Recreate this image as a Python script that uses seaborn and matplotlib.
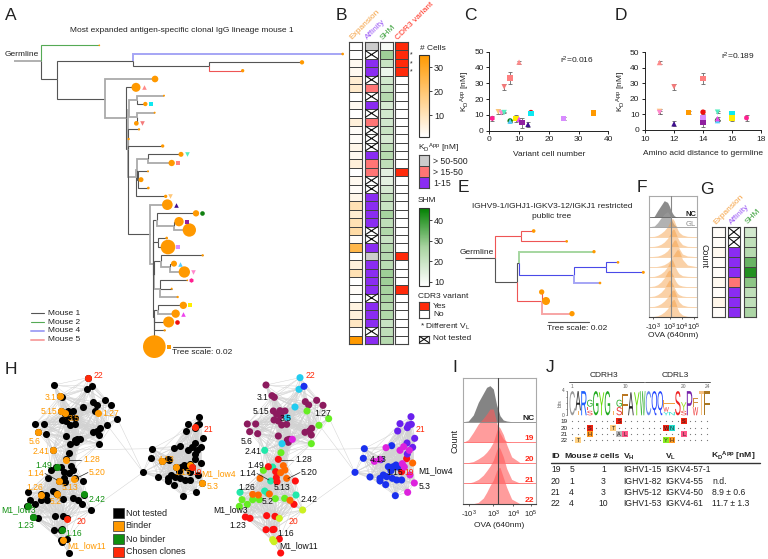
import numpy as np
import pandas as pd
import matplotlib
matplotlib.use("Agg")
import matplotlib.pyplot as plt
import seaborn as sns
from matplotlib.colors import ListedColormap, LinearSegmentedColormap, Normalize
from matplotlib.cm import ScalarMappable
from matplotlib.collections import LineCollection
from matplotlib.transforms import Affine2D
import matplotlib.patheffects as pe

# ---------- data ----------
clone_names = list("abcdefghijklmnopq")
clone_colors = ['#ff8a8a','#ff8080','#f47a7a','#ffc87a','#ff88cc','#55eec0','#ee1010','#10e8f0','#ff9900',
                '#ffee00','#d88cff','#ff2090','#108010','#55ccff','#ee44ee','#9020a0','#401090']
clone_markers = ['^','s','v','v','v','v','o','s','s','s','s','h','o','^','^','s','^']
variant_cells = [10,7,5,3,4,5,14,14,35,9,25,1,7,7,10,11,13]
aa_distance = [11,14,12,11,11,15,14,16,13,16,14,17,15,15,15,14,12]
kd_values = [43.4,33.3,27.8,12,11.3,11.5,11.5,10.8,11.3,7.8,7.7,7.8,6.2,6.0,7.3,5,4]
kd_errors = [1,3.6,2,1.5,1,.6,1.2,.5,.8,2.2,1,1.8,.5,.5,1,3,1.5]

tree_a_rows = [
 ('s',None,42,182,0,None,'K'),('r','s',124,182,0,None,'K'),('g1','r',298,136,5,None,'g'),('a','r',172,237,0,None,'k'),
 ('b','a',400,182,0,None,'k'),('t1','b',1028,162,8,None,'b'),('c','b',628,199,0,None,'k'),('t2','c',906,187,13,None,'k'),
 ('t3','c',728,212,10,None,'r'),('d','a',315,296,0,None,'k'),('t4','d',465,237,20,None,'K'),('e','d',378,355,0,None,'K'),
 ('t5','e',408,262,27,'a','k'),('f','e',385,448,0,None,'k'),('f1','f',388,330,0,None,'K'),('f2','f1',410,300,0,None,'K'),
 ('t6','f2',492,287,6,None,'K'),('t7','f2',436,312,13,'h','k'),('f3','f1',410,350,0,None,'K'),('t8','f3',464,338,6,None,'K'),
 ('t9','f3',409,370,14,'c','k'),('t10','f',417,388,7,None,'k'),('t11','f',386,417,7,None,'K'),('t12','f',488,438,10,None,'k'),
 ('f4','f',407,530,0,None,'K'),('f5','f4',410,510,0,None,'K'),('f6','f5',445,476,0,None,'K'),('t13','f6',543,463,15,'f','k'),
 ('t14','f6',515,489,19,'b','K'),('f7','f5',415,540,0,None,'k'),('t15','f7',444,514,6,None,'k'),('t16','f7',423,539,15,None,'k'),
 ('t17','f7',445,564,8,None,'k'),('t18','f4',497,589,10,'d','k'),('h','f',450,703,0,None,'k'),('t19','h',502,614,32,'q','K'),
 ('j','h',458,793,0,None,'K'),('j1','j',472,660,0,None,'k'),('t20','j1',588,640,19,'m','k'),('j11','j1',523,678,0,None,'K'),
 ('t21','j11',537,665,28,'p','k'),('t22','j11',568,690,40,None,'K'),('j2','j',475,725,0,None,'k'),('t23','j2',500,714,8,None,'k'),
 ('t24','j2',504,741,44,'k','k'),('j3','j',462,825,0,None,'k'),('j4','j3',482,784,0,None,'k'),('t25','j4',608,766,7,None,'k'),
 ('j5','j4',511,802,0,None,'K'),('t26','j5',522,791,18,'n','k'),('t27','j5',553,816,34,'e','K'),('j6','j3',481,866,0,None,'K'),
 ('t28','j6',562,841,5,'l','k'),('t29','j6',515,866,6,None,'k'),('t30','j6',533,891,7,None,'K'),('j7','j',463,950,0,None,'k'),
 ('j8','j7',475,930,0,None,'k'),('t31','j8',550,916,22,'j','k'),('t32','j8',527,941,25,'o','K'),('t33','j7',506,966,33,'g','k'),
 ('t34','j7',494,991,7,None,'k'),('t35','j7',463,1040,68,'i','k'),
]
tree_e_rows = [
 ('s',None,45,293,0,None,'k'),('r','s',136,293,0,None,'k'),('u','r',214,229,0,None,'r'),('t1','u',251,213,11,None,'r'),
 ('t2','u',350,244,8,None,'r'),('l','r',200,367,0,None,'k'),('m','l',208,310,0,None,'k'),('t3','m',432,275,10,None,'g2'),
 ('n','m',373,345,0,None,'b2'),('o','n',469,322,0,None,'b2'),('t4','o',504,307,8,None,'b2'),('t5','o',580,337,9,None,'b2'),
 ('t6','n',450,369,8,None,'b'),('v','l',275,423,0,None,'r'),('t7','v',275,396,16,None,'r'),('t8','v',288,423,24,None,'R'),
 ('t9','v',366,461,16,None,'R'),
]
tree_styles = {'k':('#555555',.8),'K':('#aaaaaa',1.3),'g':('#55aa55',.8),'g2':('#a5d6a0',1.4),'b':('#a5a5f5',1.4),
               'b2':('#4a4ae8',.8),'r':('#ee5555',.8),'R':('#f7a5a5',1.4)}

expansion_values = [1,1,3,3,7,8,1,3,1,6,2,2,4,3,6,1,3,2,4,11,7,11,13,2,25,1,6,11,1,2,1,5,6,9,1,35]
affinity_values = [3,0,1,1,0,2,0,1,0,2,0,0,0,1,2,2,0,0,1,1,1,1,0,0,1,3,1,1,1,1,0,1,1,1,0,1]
shm_values = [10,28,20,12,18,20,24,17,18,18,20,17,22,24,22,14,14,17,22,20,27,22,25,20,24,24,23,28,28,27,26,24,25,20,22,24]
cdr3_values = [1,1,1,1,0,0,0,0,0,0,0,0,0,0,0,1,0,0,0,0,0,0,0,0,0,1,0,0,0,1,0,0,0,0,0,0]
g_expansion = [2,2,3,2,2,3,2,4,2]
g_affinity = [0,0,1,1,1,2,1,1,1]
g_shm = [18,22,24,34,42,30,22,22,26]

ridge_f_x = [0,15,25,35,45,55,60,65,70,75,80,85,90,100,115,143]
ridge_f_nc = [0,3,20,35,50,45,35,22,12,5,2,0,0,0,0,0]
ridge_f_gl = [0,2,12,26,38,45,38,25,14,6,2,0,0,0,0,0]
ridge_f_orange = [
 [0,1,4,10,18,30,40,50,55,48,35,22,13,5,1,0],
 [0,1,3,7,14,25,33,42,52,52,40,28,18,6,1,0],
 [0,1,2,5,10,18,25,33,42,50,50,38,25,8,2,0],
 [0,0,1,3,6,12,16,22,30,38,46,52,48,22,5,0],
 [0,1,4,9,17,30,40,50,50,38,26,16,9,3,1,0],
 [0,2,6,14,26,45,50,48,38,26,16,9,5,2,0,0],
 [0,2,6,13,24,42,50,48,40,28,18,10,6,2,0,0],
 [0,1,4,9,17,28,36,44,50,50,38,24,14,5,1,0],
 [0,1,3,7,14,24,32,42,50,52,40,25,14,5,1,0],
]
ridge_i_x = [0,15,30,45,60,70,80,90,100,105,110,120,130,145,170,218]
ridge_i_nc = [0,2,20,58,85,103,108,98,50,35,18,5,2,0,0,0]
ridge_i_19 = [0,8,30,55,72,85,100,100,60,42,28,10,3,0,0,0]
ridge_i_20 = [0,1,4,12,22,32,45,62,95,110,105,85,55,18,1,0]
ridge_i_21 = [0,1,5,12,25,38,52,70,100,110,105,80,45,12,1,0]
ridge_i_22 = [0,0,1,5,18,35,55,72,100,108,110,80,50,15,1,0]

net_maroon = [(108,120),(126,152),(133,157),(226,170),(260,166),(236,180),(279,181),(130,198),(150,197),(165,198),(140,208),
              (152,212),(132,225),(145,228),(170,238),(52,237),(77,237),(59,260),(83,266),(145,273),(225,262),(238,258),(244,270),
              (172,285),(178,283),(175,292),(245,250),(155,240)]
net_green = [(231,198),(296,221),(267,241),(244,296),(153,323),(100,376),(36,464),(68,464),(28,484),(52,478),(136,461),(164,460),(88,464)]
net_teal = [(104,316),(128,366),(122,408),(104,438),(113,445),(198,450),(30,442)]
net_cyan = [(210,98),(207,133),(195,186),(156,296),(172,218)]
net_red = [(145,343),(115,365),(137,380),(139,398),(141,410),(196,408),(192,478),(46,516),(60,520),(110,512),(135,514),(108,554),
           (128,554),(132,553),(148,582),(152,624),(530,341),(515,380)]
net_orange = [(160,362),(165,375),(152,383),(170,400),(90,400),(68,448),(85,450),(180,466),(118,447),(548,354)]
net_lime = [(218,495),(148,520),(132,590),(128,584)]
net_violet = [(543,215),(510,236),(544,238),(536,240),(532,248),(503,258),(554,280),(531,294),(548,307),(532,327)]
net_blue = [(222,124),(403,311),(485,302),(400,340),(452,344),(498,360),(475,365),(490,365),(503,366),(483,377),(460,390),(450,400),
            (470,395),(487,400),(500,405),(515,405),(450,408),(420,396),(496,452),(375,382),(467,419)]
net_magenta = [(187,283),(468,308),(510,316),(533,442),(450,343),(523,366),(540,390),(553,414),(433,349),(517,356),(521,305),(538,316)]
net_palette = {'maroon':'#8c1a5e','green':'#66ee22','teal':'#22e8aa','cyan':'#22ccf0','red':'#ff1010','orange':'#ff6a00',
               'lime':'#ccf022','violet':'#6a20ee','blue':'#1a30ee','magenta':'#dd22dd'}
binder_nodes = [(180,152),(183,199),(195,205),(295,204),(113,261),(158,316),(199,344),(176,408),(223,401),(123,449),(170,448),
                (188,584),(487,349),(527,366),(570,360),(606,415)]
nobinder_nodes = [(170,366),(253,448),(84,484),(100,516),(185,555)]
chosen_nodes = [(265,100),(202,521),(585,247),(577,367)]
net_long_edges = [((241,205),(375,382)),((104,316),(403,311)),((375,382),(218,495)),((421,325),(510,236)),((279,181),(375,382))]

h_labels = ['22','3.1','5.15','3.5','1.27','5.6','2.41','1.28','1.49','1.14','5.20','1.26','5.13','5.2','2.42','M1_low3','1.23',
            '20','1.16','M1_low11','21','4.13','1.15','19','M1_low4','5.3']
h_label_x = [295,151,146,222,332,103,123,274,131,106,292,104,210,167,292,56,77,244,220,260,626,500,548,592,655,638]
h_label_y = [91,158,200,220,206,289,319,344,360,385,383,427,427,471,465,495,540,530,565,601,255,344,382,382,385,425]
h_label_cls = ['r','o','o','o','o','o','o','o','g','o','o','o','o','o','g','g','g','r','g','o','r','o','o','r','o','o']

logo_stacks = [
 [('C','#999999',1)],[('T','#f5b060',.2),('A','#222222',.8)],[('R','#1f5fff',1)],
 [('S','#ee3333',.2),('E','#ee5555',.15),('G','#22aa22',.3)],[('G','#22aa22',1)],[('Y','#66dd00',.95)],[('G','#22aa22',1)],
 [('T','#f5b060',.2)],[('S','#ee3333',.35),('G','#22aa22',.3)],[('F','#bb7722',.9)],[('A','#222222',.95)],[('Y','#66dd00',.95)],
 [('W','#22aa22',1)],[('C','#6688ee',1)],[('Q','#2244ff',1)],[('Q','#2244ff',1)],
 [('Y','#22ddcc',.15),('W','#ee3333',.2),('F','#f0a040',.3)],[('N','#22ddcc',.15),('T','#f0a040',.35)],[('S','#ee2222',1)],
 [('S','#ee3333',.2),('Y','#99dd22',.35)],[('P','#7722aa',1)],[('W','#ee3333',.35),('F','#d09040',.35)],[('T','#f5c080',1)],[('F','#aa7722',1)],
]
logo_rows = ['19','20','21','22']
logo_cells = [(0,9,'S','#ee2211'),(0,20,'S','#ee2211'),(1,4,'S','#ee2211'),(1,8,'T','#ffd080'),(1,17,'W','#ee2211'),(1,18,'N','#22ddcc'),
              (2,4,'H','#ff9922'),(2,9,'A','#bbbbbb'),(2,10,'L','#ff5588'),(2,20,'L','#ff5588'),(3,2,'T','#ffd080'),(3,17,'Y','#88ee22'),(3,18,'H','#ff9922')]

table_header = ['ID','Mouse','# cells',r'V$_{\mathbf{H}}$',r'V$_{\mathbf{L}}$',r'K$_{\mathbf{D}}{}^{\mathbf{App}}$ [nM]']
table_rows = [['19','5','1','IGHV1-15','IGKV4-57-1',''],['20','1','3','IGHV1-82','IGKV4-55','n.d.'],
              ['21','4','3','IGHV5-12','IGKV4-50','8.9 ± 0.6'],['22','4','10','IGHV1-53','IGKV4-61','11.7 ± 1.3']]
KD_LABEL = r'K$_{\mathrm{D}}{}^{\mathrm{App}}$ [nM]'

# ---------- setup ----------
sns.set_theme(style='ticks')
plt.rcParams.update({'font.family':['Liberation Sans','DejaVu Sans'],'font.size':6,'mathtext.fontset':'custom',
    'mathtext.rm':'Liberation Sans','mathtext.bf':'Liberation Sans:bold','mathtext.it':'Liberation Sans:italic',
    'axes.linewidth':.7,'xtick.major.width':.7,'ytick.major.width':.7,'xtick.major.size':2.5,'ytick.major.size':2.5,
    'xtick.labelsize':6,'ytick.labelsize':6,'xtick.major.pad':1.5,'ytick.major.pad':1.5,'axes.edgecolor':'#222222',
    'text.color':'#222222','axes.labelcolor':'#222222','xtick.color':'#222222','ytick.color':'#222222'})
W, H = 768, 559
fig = plt.figure(figsize=(W/100, H/100), dpi=100, facecolor='white')

def axpx(x0, y0, x1, y1, **kw):
    return fig.add_axes([x0/W, 1-y1/H, (x1-x0)/W, (y1-y0)/H], **kw)

ORANGE = '#ff9900'
marker_of = dict(zip(clone_names, clone_markers))
color_of = dict(zip(clone_names, clone_colors))

def draw_tree(ax, rows, tip_scale=1.0):
    nodes = {r[0]: r for r in rows}
    for name, parent, x, y, dia, clone, st in rows:
        if parent is None:
            continue
        px_, py_ = nodes[parent][2], nodes[parent][3]
        c, lw = tree_styles[st]
        ax.plot([px_, px_, x], [py_, y, y], color=c, lw=lw, solid_capstyle='butt', solid_joinstyle='miter', zorder=1)
    tips = [r for r in rows if r[4] > 0]
    sns.scatterplot(x=[r[2] for r in tips], y=[r[3] for r in tips], s=[(r[4]/3*.72)**2*tip_scale for r in tips],
                    color=ORANGE, linewidth=0, ax=ax, zorder=3, legend=False)
    for r in tips:
        if r[5]:
            sns.scatterplot(x=[r[2]+r[4]/2+9], y=[r[3]], s=11, marker=marker_of[r[5]], color=color_of[r[5]],
                            linewidth=0, ax=ax, zorder=3, legend=False)

# A
axA = axpx(0, 0, 350, 359)
axA.set_xlim(0, 1050); axA.set_ylim(1077, 0); axA.axis('off')
draw_tree(axA, tree_a_rows)

# B heatmaps
exp_cmap = LinearSegmentedColormap.from_list('exp', ['#ffffff', '#ff9900'])
shm_cmap = LinearSegmentedColormap.from_list('shm', ['#ffffff', '#a8d3a0', '#008000'])
aff_cmap = ListedColormap(['#ffffff', '#8a2cf2', '#ff7575', '#cccccc'])
cdr_cmap = ListedColormap(['#ffffff', '#ff2a0a'])

def col_heat(box, values, cmap, vmin, vmax, cross=None):
    ax = axpx(*box)
    df = pd.DataFrame({'v': values})
    sns.heatmap(df, ax=ax, cmap=cmap, vmin=vmin, vmax=vmax, cbar=False, xticklabels=False, yticklabels=False,
                linewidths=.5, linecolor='#444444')
    for s in ax.spines.values():
        s.set_visible(True); s.set_linewidth(.8); s.set_color('#444444')
    if cross is not None:
        for i, c in enumerate(cross):
            if c == 0:
                ax.plot([0, 1, np.nan, 0, 1], [i, i+1, np.nan, i+1, i], color='#111111', lw=.8, zorder=4)
    ax.set_xlabel(''); ax.set_ylabel('')
    return ax

col_heat((349, 42, 362, 344), expansion_values, exp_cmap, 1, 35)
col_heat((365, 42, 378, 344), affinity_values, aff_cmap, 0, 3, cross=affinity_values)
col_heat((380, 42, 393, 344), shm_values, shm_cmap, 8, 46)
col_heat((395, 42, 408, 344), cdr3_values, cdr_cmap, 0, 1)

def cbar(box, cmap, vmin, vmax, ticks):
    cax = axpx(*box)
    cb = fig.colorbar(ScalarMappable(Normalize(vmin, vmax), cmap), cax=cax)
    cb.set_ticks(ticks); cb.ax.tick_params(length=2, width=.6, labelsize=6.5, pad=1.5)
    cb.outline.set_linewidth(.8); cb.outline.set_edgecolor('#333333')
cbar((419, 55, 429, 137), exp_cmap, 1, 35, [10, 20, 30])
cbar((419, 208, 429, 286), shm_cmap, 8, 46, [10, 20, 30, 40])
col_heat((419, 155, 429, 188), [3, 2, 1], aff_cmap, 0, 3)
col_heat((419, 302, 429, 318), [1, 0], cdr_cmap, 0, 1)
col_heat((419, 336, 429, 342.7), [0], aff_cmap, 0, 3, cross=[0])

# C, D
def scatter_panel(box, xvals, xlim, xticks, xlabel):
    ax = axpx(*box)
    ax.errorbar(xvals, kd_values, yerr=kd_errors, fmt='none', ecolor='#666666', elinewidth=.6, capsize=1.6, capthick=.6, zorder=1)
    df = pd.DataFrame({'x': xvals, 'kd': kd_values, 'clone': clone_names})
    sns.scatterplot(data=df, x='x', y='kd', hue='clone', style='clone', palette=color_of, markers=marker_of, s=15,
                    linewidth=0, ax=ax, legend=False, zorder=3, clip_on=False)
    ax.set_xlim(*xlim); ax.set_ylim(0, 50)
    ax.set_xticks(xticks); ax.set_yticks(range(0, 51, 10))
    ax.set_xlabel(xlabel, fontsize=6, labelpad=5.5)
    ax.set_ylabel(KD_LABEL, fontsize=6, labelpad=1.5)
    sns.despine(ax=ax)
    return ax
scatter_panel((489.3, 51.7, 608.3, 130.7), variant_cells, (0, 40), range(0, 41, 10), 'Variant cell number')
scatter_panel((645, 52.3, 761, 130), aa_distance, (10, 18), range(10, 19, 2), 'Amino acid distance to germline')

# E
axE = axpx(450, 160, 700, 340)
axE.set_xlim(0, 750); axE.set_ylim(540, 0); axE.axis('off')
draw_tree(axE, tree_e_rows)

# ridges
def ridge_panel(box, xs, ridges, xlim, ylim, vline, ticks, ticklabels, vcolor):
    ax = axpx(*box)
    for base, ys, col, alpha, ec in ridges:
        ax.fill_between(xs, base, base+np.array(ys), color=col, alpha=alpha, linewidth=0)
        ax.plot(xs, [base]*len(xs), color=ec, lw=.6, zorder=2)
    ax.axvline(vline, color=vcolor, lw=.8, zorder=4)
    ax.set_xlim(*xlim); ax.set_ylim(*ylim)
    ax.set_yticks([]); ax.set_xticks(ticks); ax.set_xticklabels(ticklabels, fontsize=5.5)
    ax.tick_params(axis='x', length=1.5, pad=2, width=.5)
    for k, s in ax.spines.items():
        s.set_color('#aaaaaa'); s.set_linewidth(.8)
    ax.spines['bottom'].set_color('#444444')
    return ax
f_ridges = [(298, ridge_f_nc, '#666666', .75, '#666666'), (270, ridge_f_gl, '#999999', .75, '#999999')]
for i, ys in enumerate(ridge_f_orange):
    f_ridges.append((240-30*i, ys, '#f59a3c', .45, '#f7cfa5'))
ridge_panel((649.3, 196, 696.7, 316.7), ridge_f_x, f_ridges, (0, 143), (0, 362), 64, [12, 62, 99, 135],
            [r'-10$^3$', r'10$^3$', r'10$^4$', r'10$^5$'], '#888888')
i_ridges = [(247, ridge_i_nc, '#666666', .8, '#888888')]
for i, ys in enumerate([ridge_i_19, ridge_i_20, ridge_i_21, ridge_i_22]):
    i_ridges.append((185-61.7*i, ys, '#ff5a5a', .6, '#ff7070'))
ridge_panel((463.3, 378, 536, 504), ridge_i_x, i_ridges, (0, 218), (0, 378), 105, [17, 90, 150, 203],
            [r'-10$^3$', r'10$^3$', r'10$^4$', r'10$^5$'], '#444444')

# G
col_heat((712.3, 227, 724.7, 316.7), g_expansion, exp_cmap, 1, 35)
col_heat((727.7, 227, 740, 316.7), g_affinity, aff_cmap, 0, 3, cross=g_affinity)
col_heat((744.3, 227, 756.3, 316.7), g_shm, shm_cmap, 8, 46)

# H
axH = axpx(0, 345, 460, 559)
axH.set_xlim(0, 1380); axH.set_ylim(642, 0); axH.axis('off')
groups = {'maroon':net_maroon,'green':net_green,'teal':net_teal,'cyan':net_cyan,'red':net_red,'orange':net_orange,
          'lime':net_lime,'violet':net_violet,'blue':net_blue,'magenta':net_magenta}
net = pd.DataFrame([(x, y, k) for k, pts in groups.items() for x, y in pts], columns=['x', 'y', 'group'])
xy = net[['x', 'y']].to_numpy(float)
d = np.linalg.norm(xy[:, None]-xy[None], axis=2)
i_, j_ = np.where(np.triu((d < 115) & (d > 0)))
for off in (54, 690):
    segs = [[(xy[a, 0]+off, xy[a, 1]), (xy[b, 0]+off, xy[b, 1])] for a, b in zip(i_, j_)]
    segs += [[(p[0]+off, p[1]), (q[0]+off, q[1])] for p, q in net_long_edges]
    axH.add_collection(LineCollection(segs, colors='#d2d2d2', linewidths=.35, zorder=1))
sns.scatterplot(x=net['x']+54, y=net['y'], color='#000000', s=26, linewidth=0, ax=axH, zorder=2, legend=False)
sns.scatterplot(x=net['x']+690, y=net['y'], hue=net['group'], palette=net_palette, s=26, linewidth=0, ax=axH, zorder=2, legend=False)
for pts, c in ((binder_nodes, ORANGE), (nobinder_nodes, '#109010'), (chosen_nodes, '#ff2a0a')):
    sns.scatterplot(x=[p[0] for p in pts], y=[p[1] for p in pts], color=c, s=26, linewidth=0, ax=axH, zorder=3, legend=False)
axH.set_xlabel(''); axH.set_ylabel('')
axH.set_xlim(0, 1380); axH.set_ylim(642, 0)
cls_col = {'o': ORANGE, 'g': '#109010', 'r': '#ff2a0a'}
for s, x, y, c in zip(h_labels, h_label_x, h_label_y, h_label_cls):
    axH.text(x, y, s, color=cls_col[c], fontsize=6.2, ha='center', va='center', zorder=5)
    xr = x+636 if s != 'M1_low4' else 1307
    axH.text(xr, y if s != 'M1_low4' else 376, s, color=('#ff2a0a' if c == 'r' else '#111111'), fontsize=6.2, ha='center', va='center', zorder=5)

# overlay for text and small marks
ov = axpx(0, 0, W, H)
ov.set_xlim(0, W); ov.set_ylim(H, 0); ov.axis('off'); ov.patch.set_alpha(0)
def T(x, y, s, **kw):
    kw.setdefault('fontsize', 6); kw.setdefault('va', 'center'); kw.setdefault('ha', 'left')
    return ov.text(x, y, s, **kw)

for s, x, y in [('A',5,15),('B',336,15),('C',464,15),('D',615,15),('E',458,188),('F',637,188),('G',700,189),('H',5,369),('I',452,368),('J',546,368)]:
    T(x, y, s, fontsize=12.5)

T(182, 30.5, 'Most expanded antigen-specific clonal IgG lineage mouse 1', ha='center')
T(5, 54, 'Germline')
for lab, c, y, lw in [('Mouse 1','#555555',313.3,.8),('Mouse 2','#55aa55',322.3,.8),('Mouse 4','#a5a5f5',331,1.4),('Mouse 5','#f7a5a5',339.7,1.4)]:
    ov.plot([31, 44.3], [y, y], color=c, lw=lw)
    T(48.3, y, lab)
ov.plot([172.5, 210], [347, 347], color='#555555', lw=.8)
T(172.5, 353, 'Tree scale: 0.02')

for s, x, c in [('Expansion',351.5,'#f5a040'),('Affinity',368,'#9b59f5'),('SHM',383,'#3aa03a'),('CDR3 variant',398,'#ff2a1a')]:
    T(x, 39.5, s, color=c, rotation=45, rotation_mode='anchor', va='baseline', fontsize=6)
for s, x, c in [('Expansion',715.5,'#f5a040'),('Affinity',731.5,'#9b59f5'),('SHM',748,'#3aa03a')]:
    T(x, 224.5, s, color=c, rotation=45, rotation_mode='anchor', va='baseline', fontsize=6)
for y in (55, 63.5, 72):
    T(410, y, '*', fontsize=5)
T(420, 48, '# Cells')
T(418, 148, KD_LABEL)
T(433, 162, '> 50-500', fontsize=6.3); T(433, 172.5, '> 15-50', fontsize=6.3); T(433, 184, '1-15', fontsize=6.3)
T(418, 200.5, 'SHM'); T(418, 296, 'CDR3 variant')
T(433, 306, 'Yes'); T(433, 315, 'No')
T(420, 327, r'* Different V$_{\mathrm{L}}$'); T(433, 339, 'Not tested')

T(577, 60, 'r$^2$=0.016', ha='center'); T(738, 56, 'r$^2$=0.189', ha='center')

T(552, 206, 'IGHV9-1/IGHJ1-IGKV3-12/IGKJ1 restricted', ha='center')
T(552, 216.5, 'public tree', ha='center')
T(460, 252, 'Germline')
ov.plot([547.7, 588.7], [322, 322], color='#555555', lw=.8)
T(576.7, 329, 'Tree scale: 0.02', ha='center')
T(690.7, 214.3, 'NC', fontweight='bold', ha='center', fontsize=5.5)
T(690.7, 224.3, 'GL', color='#888888', ha='center', fontsize=5.5)
T(673, 335.5, 'OVA (640nm)', ha='center')
T(703.5, 256.5, 'Count', rotation=270, ha='center', fontsize=6.5)
T(455.5, 441, 'Count', rotation=90, ha='center', fontsize=6.5)
T(499.5, 525.5, 'OVA (640nm)', ha='center')
for s, y, c, w in [('NC',419,'#222222','bold'),('19',439,'#ff2a1a','bold'),('20',459.5,'#ff2a1a','bold'),('21',480,'#ff2a1a','bold'),('22',500,'#ff2a1a','bold')]:
    T(529, y, s, color=c, fontweight=w, ha='center')

# H legend
for y, c, lab in [(513,'#000000','Not tested'),(526,ORANGE,'Binder'),(539,'#109010','No binder'),(552,'#ff2a0a','Chosen clones')]:
    ov.add_patch(plt.Rectangle((113, y-5), 11, 10, fc=c, ec='#333333', lw=.5))
    T(125.7, y, lab, fontsize=6.5)
# H leaders
for off in (0, 212):
    for (x0, y0), (x1, y1) in [((81,459.7),(68.5,459.7)),((45,473.5),(57,480)),((88,472.5),(76,478.5))]:
        ov.plot([x0+off, x1+off], [y0, y1], color='#222222', lw=.5, zorder=6)

# J logo
class FitBox(pe.AbstractPathEffect):
    def __init__(self, w, h):
        super().__init__(); self.w, self.h = w, h
    def draw_path(self, renderer, gc, tpath, affine, rgbFace=None):
        bb = tpath.get_extents()
        ox, oy = affine.transform_point((0, 0))
        t = Affine2D().translate(-bb.x0, -bb.y0).scale(self.w/max(bb.width, 1e-6), self.h/max(bb.height, 1e-6)).translate(ox, oy)
        renderer.draw_path(gc, tpath, t, rgbFace)

col_w = 5.867; x_logo = 569.3; base_logo = 415.3; full_h = 24.6
for c, stack in enumerate(logo_stacks):
    y = base_logo
    for letter, color, frac in stack:
        h = frac*full_h
        T(x_logo+c*col_w+.2, y, letter, color=color, va='baseline', fontsize=3, path_effects=[FitBox(col_w-.4, max(h-.4, .5))])
        y -= h
ov.plot([567, 567], [base_logo, base_logo-full_h], color='#555555', lw=.5)
for v in range(5):
    ov.plot([565.5, 567], [base_logo-v*full_h/4]*2, color='#555555', lw=.4)
T(560, 403, 'bits', rotation=90, ha='center', fontsize=3.5, color='#555555')
T(563.5, base_logo, '0', ha='center', fontsize=3.5, color='#555555'); T(563.5, base_logo-full_h, '4', ha='center', fontsize=3.5, color='#555555')
for lab, c in [('1',1),('10',10),('20',20),('24',24)]:
    T(x_logo+(c-.5)*col_w, 386.5, lab, ha='center', fontsize=3.5, color='#666666')
ov.plot([569.3, 644], [382, 382], color='#555555', lw=.7); ov.plot([645.3, 710], [382, 382], color='#555555', lw=.7)
T(604, 375.5, 'CDRH3', ha='center'); T(675, 375.5, 'CDRL3', ha='center')
row_y = [421.3, 428, 434.2, 440.3]
dotx = [x_logo+(c+.5)*col_w for c in range(24)]
for y, lab in zip(row_y, logo_rows):
    T(567.5, y, lab, ha='right', fontsize=4.6)
    ov.scatter(dotx, [y]*24, s=.8, color='#777777', linewidth=0)
for r, c, letter, color in logo_cells:
    ov.add_patch(plt.Rectangle((x_logo+(c-1)*col_w, row_y[r]-2.9), col_w, 5.8, fc=color, ec='none', zorder=3))
    T(x_logo+(c-.5)*col_w, row_y[r], letter, ha='center', fontsize=4, zorder=4, color='#222222')

# J table
col_x = [551, 564, 592.7, 623, 665, 711]
for s, x in zip(table_header, col_x):
    T(x, 456.7, s, fontweight='bold', fontsize=6.1)
ov.plot([550.7, 760], [462.7, 462.7], color='#333333', lw=1)
cell_x = [551, 571.7, 603.3, 623, 665, 712]
cell_ha = ['left', 'center', 'center', 'left', 'left', 'left']
for y, row in zip([470, 481, 492.3, 503.7], table_rows):
    for v, x, ha in zip(row, cell_x, cell_ha):
        T(x, y, v, ha=ha, fontsize=6.2)

fig.savefig('out.png', dpi=100, facecolor='white')
